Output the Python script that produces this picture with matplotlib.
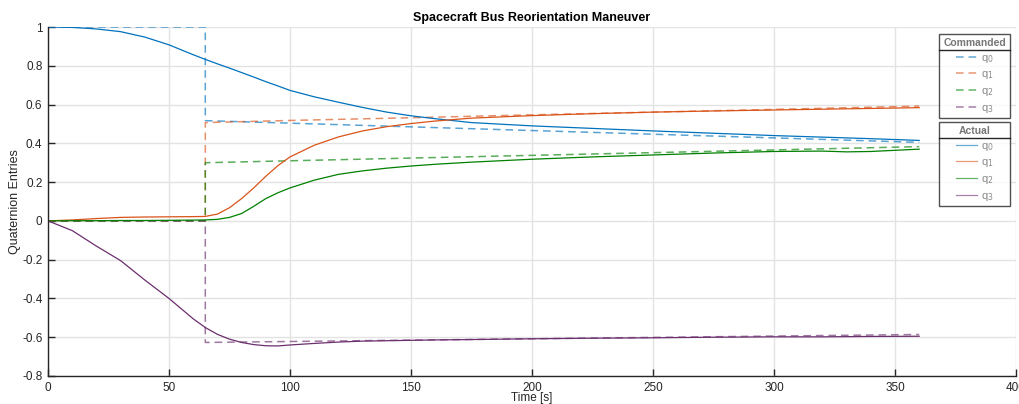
import matplotlib
matplotlib.use('Agg')
import matplotlib.pyplot as plt
from matplotlib.lines import Line2D
from matplotlib.legend_handler import HandlerLine2D

# Commanded quaternion (step at t=65 s)
t_cmd = [0, 65, 65, 100, 150, 200, 250, 300, 360]
q0_cmd = [1, 1, 0.517, 0.504, 0.485, 0.466, 0.447, 0.428, 0.405]
q1_cmd = [0, 0, 0.507, 0.518, 0.532, 0.547, 0.561, 0.575, 0.592]
q2_cmd = [0, 0, 0.300, 0.310, 0.324, 0.338, 0.352, 0.366, 0.383]
q3_cmd = [0, 0, -0.627, -0.622, -0.615, -0.608, -0.601, -0.594, -0.586]

# Actual quaternion
t_act = [0, 10, 20, 30, 40, 50, 60, 65, 70, 75, 80, 85, 90, 95, 100, 110, 120,
         130, 140, 150, 160, 175, 200, 225, 250, 275, 300, 320, 330, 340, 360]
q0_act = [1.0, 0.998, 0.99, 0.976, 0.948, 0.908, 0.857, 0.833, 0.81, 0.788, 0.765,
          0.742, 0.718, 0.696, 0.673, 0.64, 0.612, 0.585, 0.561, 0.542, 0.527, 0.507,
          0.49, 0.477, 0.464, 0.452, 0.44, 0.432, 0.428, 0.424, 0.415]
q1_act = [0, 0.005, 0.012, 0.018, 0.02, 0.021, 0.022, 0.023, 0.035, 0.068, 0.115,
          0.17, 0.23, 0.285, 0.33, 0.39, 0.433, 0.464, 0.486, 0.502, 0.515, 0.53,
          0.543, 0.553, 0.561, 0.567, 0.572, 0.576, 0.578, 0.58, 0.584]
q2_act = [0, 0.001, 0.001, 0.002, 0.002, 0.003, 0.004, 0.005, 0.008, 0.018, 0.038,
          0.075, 0.115, 0.145, 0.17, 0.21, 0.24, 0.258, 0.272, 0.283, 0.292, 0.303,
          0.318, 0.33, 0.34, 0.35, 0.358, 0.36, 0.356, 0.358, 0.37]
q3_act = [0, -0.05, -0.13, -0.205, -0.305, -0.4, -0.505, -0.55, -0.585, -0.61, -0.627,
          -0.638, -0.644, -0.645, -0.64, -0.632, -0.625, -0.62, -0.618, -0.616, -0.614,
          -0.612, -0.608, -0.605, -0.603, -0.6, -0.598, -0.598, -0.597, -0.596, -0.595]

labels = ['q$_0$', 'q$_1$', 'q$_2$', 'q$_3$']
colors = ['#0072BD', '#D95319', '#008000', '#6B2F6E']


class RightLine(HandlerLine2D):
    # draw the legend line only in the right part of the handle box
    def create_artists(self, legend, orig_handle, xdescent, ydescent, width,
                       height, fontsize, trans):
        frac = 0.63
        off = width * (1 - frac)
        return super().create_artists(legend, orig_handle, xdescent - off, ydescent,
                                      width * frac, height, fontsize, trans)


plt.rcParams['font.family'] = ['Liberation Sans', 'DejaVu Sans']

fig = plt.figure(figsize=(10.19, 4.04), dpi=100)
ax = fig.add_axes([48 / 1019, 1 - 376 / 404, 968 / 1019, 349 / 404])

cmd_lines = []
for q, c, lab in zip([q0_cmd, q1_cmd, q2_cmd, q3_cmd], colors, labels):
    ln, = ax.plot(t_cmd, q, color=c, lw=1.1, alpha=0.65, dashes=(5, 3.2), label=lab)
    cmd_lines.append(ln)

act_lines = []
for q, c, lab in zip([q0_act, q1_act, q2_act, q3_act], colors, labels):
    ln, = ax.plot(t_act, q, color=c, lw=0.9, label=lab)
    act_lines.append(ln)

ax.set_xlim(0, 400)
ax.set_ylim(-0.8, 1)
ax.set_xticks(range(0, 401, 50))
ax.set_yticks([1, 0.8, 0.6, 0.4, 0.2, 0, -0.2, -0.4, -0.6, -0.8])
ax.set_yticklabels(['1', '0.8', '0.6', '0.4', '0.2', '0', '-0.2', '-0.4', '-0.6', '-0.8'])
ax.grid(True, color='#e3e3e3', lw=1)
ax.set_axisbelow(True)
ax.tick_params(direction='in', length=5, width=1, labelsize=8.5, colors='#262626', pad=4)
for s in ['top', 'right']:
    ax.spines[s].set_visible(False)
for s in ['left', 'bottom']:
    ax.spines[s].set_color('#262626')
    ax.spines[s].set_linewidth(1)

ax.set_xlabel('Time [s]', fontsize=8.5, color='#262626', labelpad=-1)
ax.set_ylabel('Quaternion Entries', fontsize=9, color='#262626', labelpad=1)
ax.set_title('Spacecraft Bus Reorientation Maneuver', fontsize=9, fontweight='bold',
             family=['Liberation Sans Narrow', 'Liberation Sans', 'DejaVu Sans'], pad=4)

leg_kw = dict(fontsize=8, frameon=True, fancybox=False, edgecolor='#262626',
              handlelength=3.1, handletextpad=0.3, labelspacing=0.42,
              borderpad=0.35, borderaxespad=0, title_fontsize=7.5,
              labelcolor='#888888', mode='expand', loc='upper left',
              bbox_transform=fig.transFigure, handler_map={Line2D: RightLine()})

leg1 = ax.legend(handles=cmd_lines, title='Commanded',
                 bbox_to_anchor=(939 / 1019, 1 - 117 / 404, 71 / 1019, 83 / 404), **leg_kw)
leg2 = ax.legend(handles=act_lines, title='Actual',
                 bbox_to_anchor=(939 / 1019, 1 - 206 / 404, 71 / 1019, 84 / 404), **leg_kw)
ax.add_artist(leg1)

for leg in (leg1, leg2):
    leg.get_frame().set_linewidth(1)
    leg.get_title().set_fontweight('bold')
    leg.get_title().set_color('#777777')
    for h in leg.legend_handles:
        h.set_alpha(0.6)

fig.canvas.draw()
inv = fig.transFigure.inverted()
for leg in (leg1, leg2):
    fb = leg.get_frame().get_window_extent()
    tb = leg.get_title().get_window_extent()
    y = tb.y0 - 2
    (x0, yy), (x1, _) = inv.transform([(fb.x0, y), (fb.x1, y)])
    fig.add_artist(Line2D([x0, x1], [yy, yy], color='#262626', lw=1,
                          transform=fig.transFigure))

fig.savefig('out.png', dpi=100)
